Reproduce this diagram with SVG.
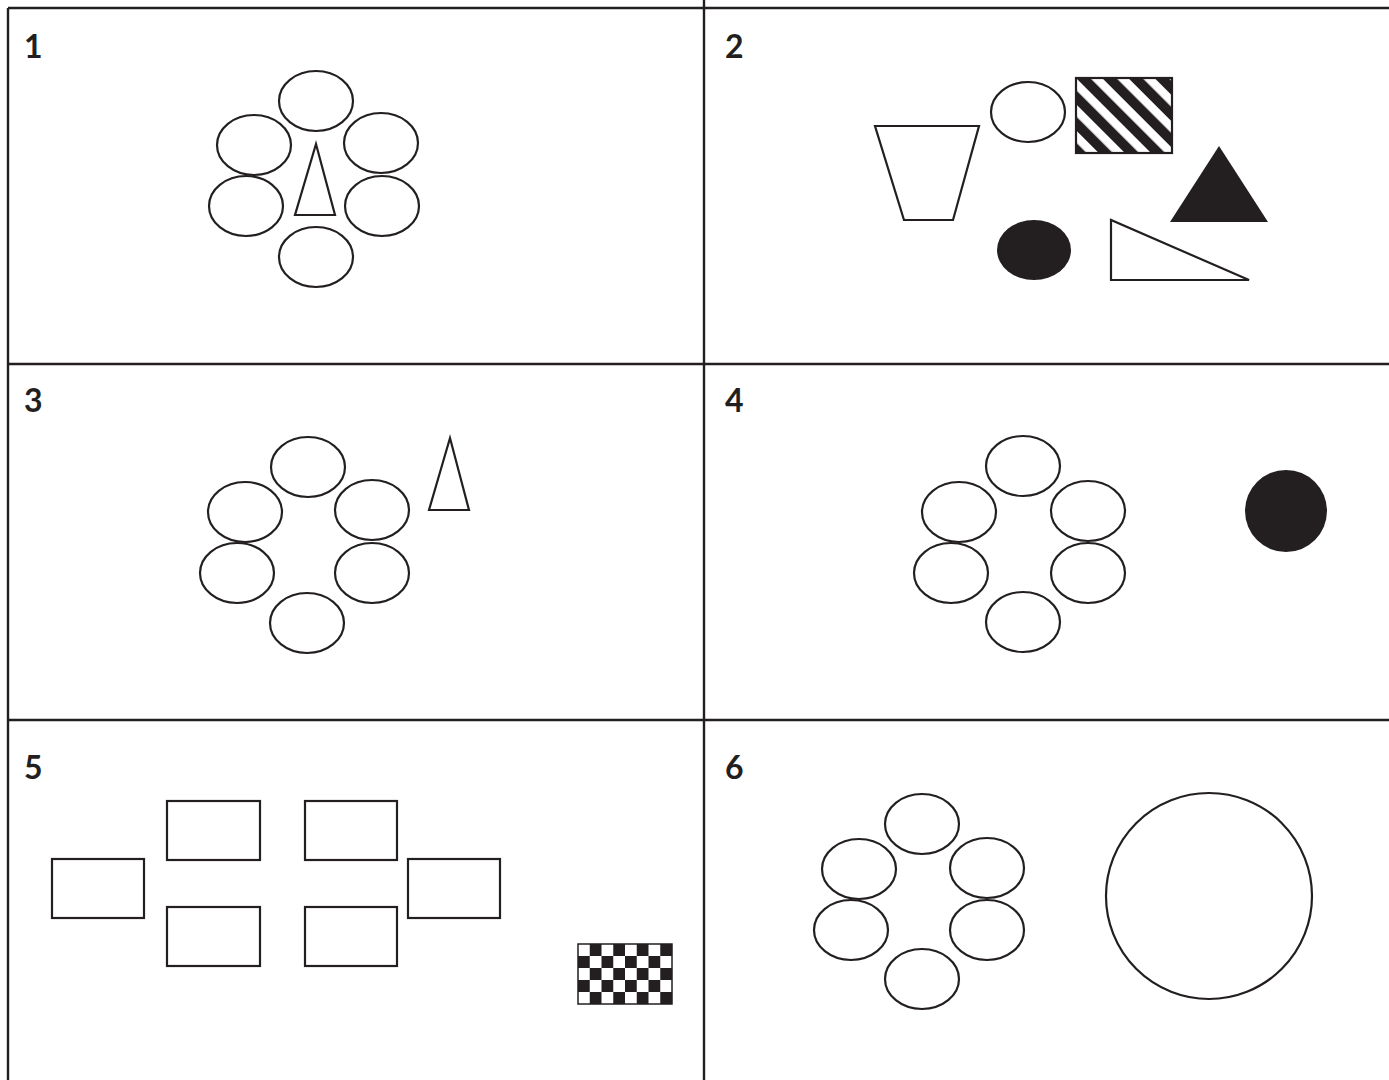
<svg xmlns="http://www.w3.org/2000/svg" width="1389" height="1080" viewBox="0 0 1389 1080">
<style>
.o{fill:#fff;stroke:#231f20;stroke-width:2.2}
.f{fill:#231f20;stroke:none}
.g{fill:none;stroke:#231f20;stroke-width:2.4}
.lbl{font-family:"Lato","Liberation Sans",sans-serif;font-weight:bold;font-size:32px;fill:#231f20}
</style>
<defs>
<pattern id="hatch" patternUnits="userSpaceOnUse" x="1076" y="78" width="18.5" height="18.5" patternTransform="rotate(-45 1076 78)">
<rect x="0" y="0" width="18.5" height="18.5" fill="#fff"/>
<rect x="0" y="0" width="10" height="18.5" fill="#231f20"/>
</pattern>
<pattern id="check" patternUnits="userSpaceOnUse" x="578" y="944" width="23.5" height="24">
<rect x="0" y="0" width="23.5" height="24" fill="#231f20"/>
<rect x="0" y="0" width="11.75" height="12" fill="#fff"/>
<rect x="11.75" y="12" width="11.75" height="12" fill="#fff"/>
</pattern>
</defs>
<rect width="1389" height="1080" fill="#fff"/>
<g id="grid">
<line class="g" x1="8" y1="8" x2="1389" y2="8"/>
<line class="g" x1="8" y1="8" x2="8" y2="1080"/>
<line class="g" x1="704" y1="0" x2="704" y2="1080"/>
<line class="g" x1="8" y1="364" x2="1389" y2="364"/>
<line class="g" x1="8" y1="720" x2="1389" y2="720"/>
</g>
<g id="labels">
<text class="lbl" x="24" y="58">1</text>
<text class="lbl" x="725" y="58">2</text>
<text class="lbl" x="24" y="412">3</text>
<text class="lbl" x="725" y="412">4</text>
<text class="lbl" x="24" y="779">5</text>
<text class="lbl" x="725" y="779">6</text>
</g>
<g id="panel1">
<ellipse class="o" cx="316" cy="101" rx="37" ry="30"/>
<ellipse class="o" cx="254" cy="145" rx="37" ry="30"/>
<ellipse class="o" cx="381" cy="143" rx="37" ry="30"/>
<ellipse class="o" cx="246" cy="206" rx="37" ry="30"/>
<ellipse class="o" cx="382" cy="206" rx="37" ry="30"/>
<ellipse class="o" cx="316" cy="257" rx="37" ry="30"/>
<polygon class="o" points="316,144 295,215 335,215"/>
</g>
<g id="panel2">
<polygon class="o" points="875,126 979,126 953,220 904,220"/>
<ellipse class="o" cx="1028" cy="112" rx="37" ry="30"/>
<rect x="1076" y="78" width="96" height="75" fill="url(#hatch)" stroke="#231f20" stroke-width="2.2"/>
<polygon class="f" points="1219,146 1268,222 1170,222"/>
<polygon class="o" points="1111,220 1111,280 1249,280"/>
<ellipse class="f" cx="1034" cy="250" rx="37" ry="30"/>
</g>
<g id="panel3">
<ellipse class="o" cx="308" cy="467" rx="37" ry="30"/>
<ellipse class="o" cx="245" cy="512" rx="37" ry="30"/>
<ellipse class="o" cx="372" cy="510" rx="37" ry="30"/>
<ellipse class="o" cx="237" cy="573" rx="37" ry="30"/>
<ellipse class="o" cx="372" cy="573" rx="37" ry="30"/>
<ellipse class="o" cx="307" cy="623" rx="37" ry="30"/>
<polygon class="o" points="450,438 429,510 469,510"/>
</g>
<g id="panel4">
<ellipse class="o" cx="1023" cy="466" rx="37" ry="30"/>
<ellipse class="o" cx="959" cy="512" rx="37" ry="30"/>
<ellipse class="o" cx="1088" cy="511" rx="37" ry="30"/>
<ellipse class="o" cx="951" cy="573" rx="37" ry="30"/>
<ellipse class="o" cx="1088" cy="573" rx="37" ry="30"/>
<ellipse class="o" cx="1023" cy="622" rx="37" ry="30"/>
<circle class="f" cx="1286" cy="511" r="41"/>
</g>
<g id="panel5">
<rect class="o" x="167" y="801" width="93" height="59"/>
<rect class="o" x="305" y="801" width="92" height="59"/>
<rect class="o" x="52" y="859" width="92" height="59"/>
<rect class="o" x="408" y="859" width="92" height="59"/>
<rect class="o" x="167" y="907" width="93" height="59"/>
<rect class="o" x="305" y="907" width="92" height="59"/>
<rect x="578" y="944" width="94" height="60" fill="url(#check)" stroke="#231f20" stroke-width="1.5"/>
</g>
<g id="panel6">
<ellipse class="o" cx="922" cy="824" rx="37" ry="30"/>
<ellipse class="o" cx="859" cy="869" rx="37" ry="30"/>
<ellipse class="o" cx="987" cy="868" rx="37" ry="30"/>
<ellipse class="o" cx="851" cy="930" rx="37" ry="30"/>
<ellipse class="o" cx="987" cy="930" rx="37" ry="30"/>
<ellipse class="o" cx="922" cy="979" rx="37" ry="30"/>
<circle class="o" cx="1209" cy="896" r="103"/>
</g>
</svg>
